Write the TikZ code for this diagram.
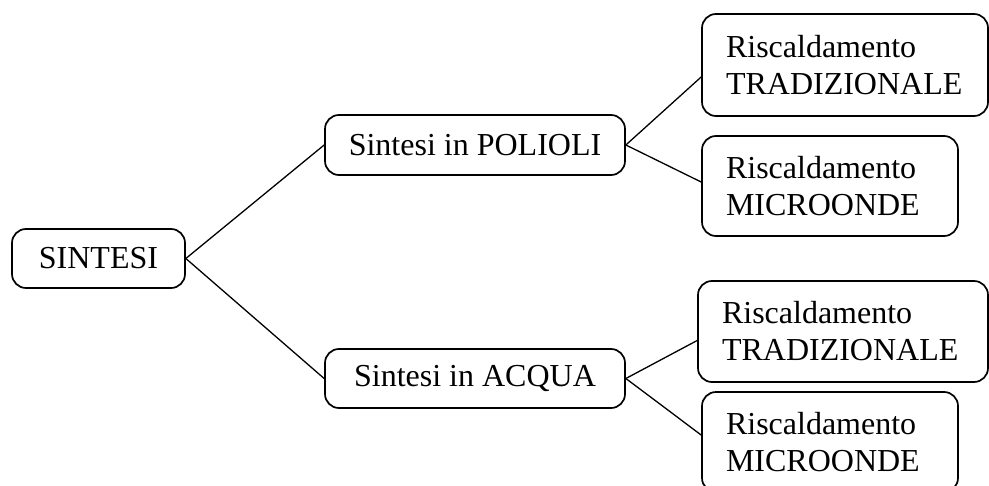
\documentclass[tikz,border=0pt]{standalone}
\usepackage{fontspec}
\setmainfont{Liberation Serif}
\begin{document}
\begin{tikzpicture}[
    x=0.5pt, y=-0.5pt,
    box/.style={draw=black, line width=0.85pt, rounded corners=7pt, inner sep=0pt,
      font=\fontsize{16}{18.5}\selectfont},
    leafbox/.style={box, align=left, inner xsep=12pt, text width=#1},
    edge/.style={line width=0.65pt, black}
  ]

    % page frame (fixes the margins)
    \useasboundingbox (0, 0) rectangle (989, 486);

    % Root
    \node[box, minimum width=86.5pt, minimum height=29.5pt] (sint) at (98.5, 258.5) {SINTESI};

    % Two kinds of synthesis
    \node[box, minimum width=150pt, minimum height=30pt] (pol) at (475, 145) {Sintesi in POLIOLI};
    \node[box, minimum width=150pt, minimum height=29.5pt] (acq) at (475, 378.5) {Sintesi in ACQUA};

    % Heating methods
    \node[leafbox=123pt, minimum height=51pt, inner xsep=10pt] (r1) at (845, 65) {\hspace*{2pt}Riscaldamento\\\hspace*{2pt}TRADIZIONALE};
    \node[leafbox=104pt, minimum height=50pt] (r2) at (830, 186) {Riscaldamento\\MICROONDE};
    \node[leafbox=125pt, minimum height=50.5pt, inner xsep=10pt] (r3) at (843, 331.5) {\hspace*{2pt}Riscaldamento\\\hspace*{2pt}TRADIZIONALE};
    \node[leafbox=104pt, minimum height=50pt] (r4) at (830, 442) {Riscaldamento\\MICROONDE};

    % Edges
    \draw[edge] (sint.east) -- (pol.west);
    \draw[edge] (sint.east) -- (acq.west);
    \draw[edge] (pol.east) -- ([yshift=-6pt]r1.west);
    \draw[edge] (pol.east) -- ([yshift=2pt]r2.west);
    \draw[edge] (acq.east) -- ([yshift=-4.5pt]r3.west);
    \draw[edge] (acq.east) -- ([yshift=3.5pt]r4.west);

  \end{tikzpicture}
\end{document}
